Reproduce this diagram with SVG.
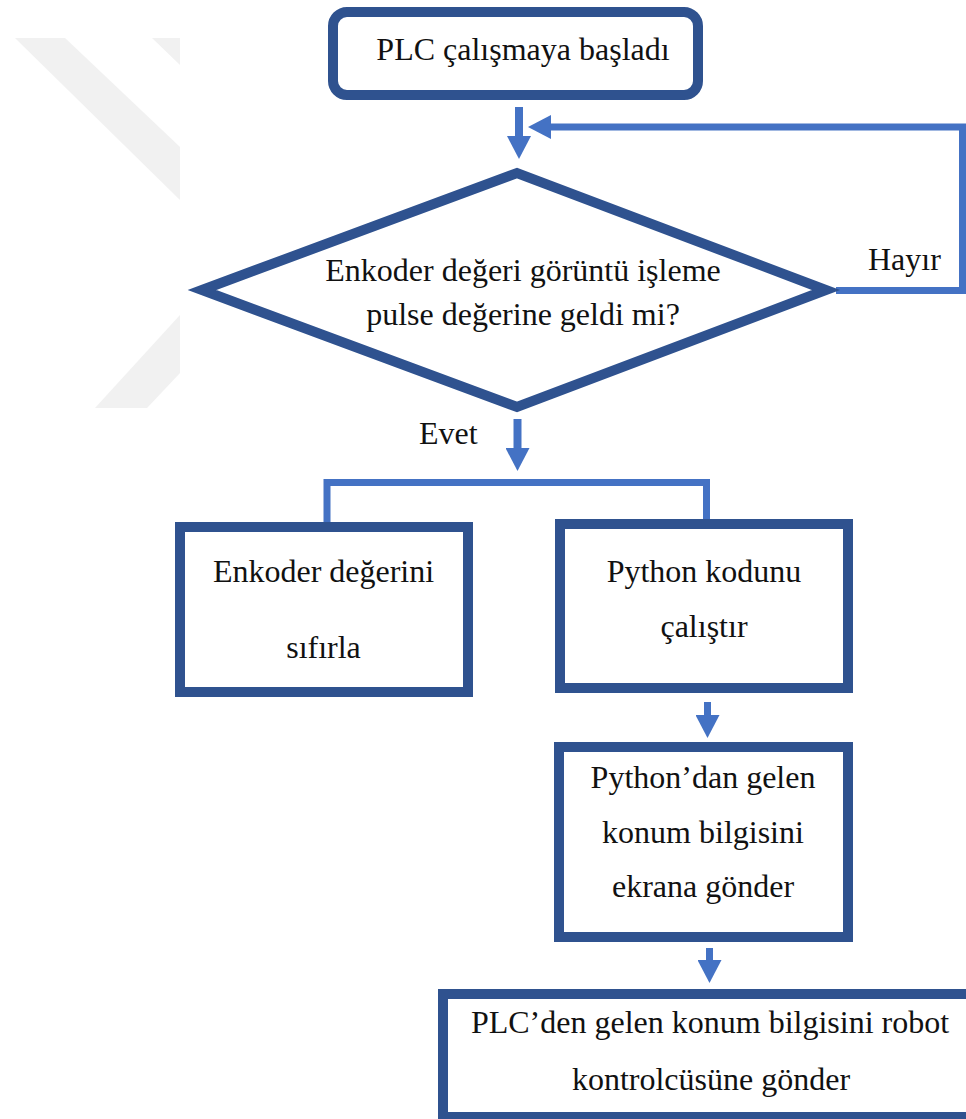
<svg xmlns="http://www.w3.org/2000/svg" width="966" height="1119" viewBox="0 0 966 1119">
  <style>
    .box { fill: #ffffff; stroke: #2F528F; stroke-width: 10; }
    .lbl { font-family: "Liberation Serif", "Times New Roman", serif; font-size: 32px; fill: #111111; text-anchor: middle; }
    .side { font-family: "Liberation Serif", "Times New Roman", serif; font-size: 32px; fill: #111111; }
    .wire { fill: none; stroke: #4472C4; stroke-width: 8; stroke-linecap: butt; stroke-linejoin: miter; }
    .thin { stroke-width: 7; }
    .mark { fill: #F1F1F1; }
  </style>
  <defs>
    <marker id="head" markerUnits="userSpaceOnUse" markerWidth="23" markerHeight="24" refX="0" refY="12" orient="auto">
      <path d="M0,0 L23,12 L0,24 z" fill="#4472C4"/>
    </marker>
  </defs>

  <rect width="966" height="1119" fill="#ffffff"/>

  <!-- faint background emblem -->
  <g id="emblem">
    <polygon class="mark" points="15,38 65,38 180,147 180,200"/>
    <polygon class="mark" points="152,38 180,38 180,65"/>
    <polygon class="mark" points="180,315 95,408 147,408 180,373"/>
  </g>

  <!-- connectors -->
  <g id="connectors">
    <line class="wire" x1="519" y1="107" x2="519" y2="136" marker-end="url(#head)"/>
    <polyline class="wire thin" points="836,290.5 962.5,290.5 962.5,127 551,127" marker-end="url(#head)"/>
    <line class="wire" x1="517.5" y1="419" x2="517.5" y2="448" marker-end="url(#head)"/>
    <polyline class="wire thin" points="327,524 327,482.5 706.5,482.5 706.5,521"/>
    <line class="wire thin" x1="707.5" y1="702" x2="707.5" y2="715" marker-end="url(#head)"/>
    <line class="wire thin" x1="709.5" y1="948" x2="709.5" y2="960" marker-end="url(#head)"/>
  </g>

  <g id="start">
    <rect class="box" x="333" y="12" width="365" height="83" rx="14" ry="14"/>
    <text class="lbl" x="523" y="60">PLC çalışmaya başladı</text>
  </g>

  <g id="check">
    <polygon class="box" points="202,290 517,173 826,290 517,407"/>
    <text class="lbl" x="523" y="281">Enkoder değeri görüntü işleme</text>
    <text class="lbl" x="523" y="325">pulse değerine geldi mi?</text>
  </g>

  <g id="labels">
    <text class="side" x="868" y="270">Hayır</text>
    <text class="side" x="419" y="444">Evet</text>
  </g>

  <g id="reset">
    <rect class="box" x="180" y="527" width="288" height="165"/>
    <text class="lbl" x="323.5" y="582">Enkoder değerini</text>
    <text class="lbl" x="323.5" y="658">sıfırla</text>
  </g>

  <g id="run">
    <rect class="box" x="560" y="524" width="288" height="164"/>
    <text class="lbl" x="704" y="582">Python kodunu</text>
    <text class="lbl" x="704" y="637">çalıştır</text>
  </g>

  <g id="display">
    <rect class="box" x="559" y="747" width="289" height="190"/>
    <text class="lbl" x="703" y="788">Python’dan gelen</text>
    <text class="lbl" x="703" y="843">konum bilgisini</text>
    <text class="lbl" x="703" y="897">ekrana gönder</text>
  </g>

  <g id="robot">
    <rect class="box" x="443" y="994" width="528" height="123"/>
    <text class="lbl" x="710" y="1033">PLC’den gelen konum bilgisini robot</text>
    <text class="lbl" x="711" y="1090">kontrolcüsüne gönder</text>
  </g>
</svg>
